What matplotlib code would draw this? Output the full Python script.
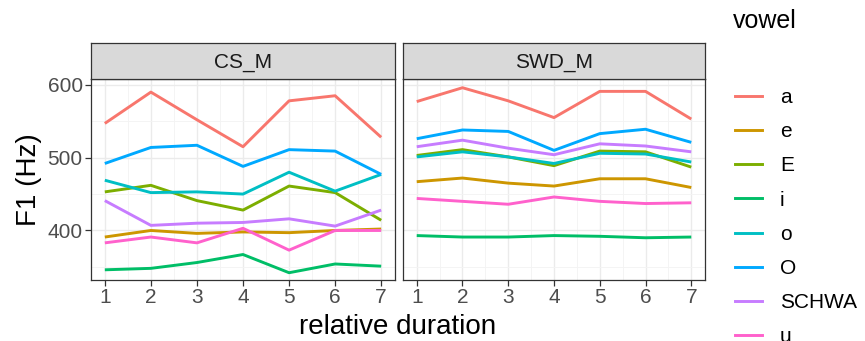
import numpy as np
import matplotlib.pyplot as plt
from matplotlib.lines import Line2D
from matplotlib.ticker import MultipleLocator

plt.rcParams['font.family'] = ['Liberation Sans', 'DejaVu Sans']

durations = [1, 2, 3, 4, 5, 6, 7]
vowels = ['a', 'e', 'E', 'i', 'o', 'O', 'SCHWA', 'u']
colors = ['#F8766D', '#CD9600', '#7CAE00', '#00BE67',
          '#00BFC4', '#00A9FF', '#C77CFF', '#FF61CC']
speakers = ['CS_M', 'SWD_M']

# F1 means per vowel, speaker CS_M
cs_m = {
    'a':     [547, 590, 552, 515, 578, 585, 528],
    'e':     [391, 400, 396, 398, 397, 400, 402],
    'E':     [453, 462, 441, 428, 461, 452, 414],
    'i':     [346, 348, 356, 367, 342, 354, 351],
    'o':     [469, 452, 453, 450, 480, 454, 477],
    'O':     [492, 514, 517, 488, 511, 509, 477],
    'SCHWA': [441, 407, 410, 411, 416, 406, 428],
    'u':     [383, 391, 383, 403, 373, 400, 400],
}
# F1 means per vowel, speaker SWD_M
swd_m = {
    'a':     [577, 596, 578, 555, 591, 591, 553],
    'e':     [467, 472, 465, 461, 471, 471, 459],
    'E':     [503, 511, 501, 489, 509, 508, 487],
    'i':     [393, 391, 391, 393, 392, 390, 391],
    'o':     [501, 508, 501, 492, 506, 505, 494],
    'O':     [526, 538, 536, 510, 533, 539, 521],
    'SCHWA': [515, 524, 513, 504, 519, 516, 508],
    'u':     [444, 440, 436, 446, 440, 437, 438],
}
panels = [cs_m, swd_m]

W, H = 865, 341
fig = plt.figure(figsize=(W / 100, H / 100), dpi=100)

panel_x = [(91, 395), (403, 705)]
ptop, pbot = 79, 280
strip_top = 43

for k, (x0, x1) in enumerate(panel_x):
    ax = fig.add_axes([x0 / W, 1 - pbot / H, (x1 - x0) / W, (pbot - ptop) / H])
    data = panels[k]
    for v, c in zip(vowels, colors):
        ax.plot(durations, data[v], color=c, lw=2.1, solid_capstyle='butt')
    ax.set_xlim(0.7, 7.3)
    ax.set_ylim(332, 608)
    ax.set_xticks(durations)
    ax.xaxis.set_minor_locator(MultipleLocator(0.5))
    ax.set_yticks([400, 500, 600])
    ax.yaxis.set_minor_locator(MultipleLocator(50))
    ax.grid(True, which='major', color='#EBEBEB', lw=1.0)
    ax.grid(True, which='minor', color='#F3F3F3', lw=0.6)
    ax.set_axisbelow(True)
    for s in ax.spines.values():
        s.set_color('#333333')
        s.set_linewidth(0.9)
    ax.tick_params(which='minor', length=0)
    ax.tick_params(which='major', length=4, color='#333333', width=0.9,
                   labelsize=15, labelcolor='#4D4D4D', pad=2)
    if k == 0:
        ax.set_ylabel('F1 (Hz)', fontsize=20, labelpad=4)
    else:
        ax.tick_params(axis='y', length=0, labelleft=False)

    sax = fig.add_axes([x0 / W, 1 - ptop / H, (x1 - x0) / W, (ptop - strip_top) / H])
    sax.set_facecolor('#D9D9D9')
    sax.set_xticks([])
    sax.set_yticks([])
    for s in sax.spines.values():
        s.set_color('#333333')
        s.set_linewidth(0.9)
    sax.text(0.5, 0.47, speakers[k], ha='center', va='center',
             fontsize=15, color='#1A1A1A', transform=sax.transAxes)

fig.text((91 + 705) / 2 / W, 1 - 327 / H, 'relative duration',
         ha='center', va='center', fontsize=20)

# legend
fig.text(733 / W, 1 - 21 / H, 'vowel', ha='left', va='center', fontsize=18)
handles = [Line2D([], [], color=c, lw=2.1) for c in colors]
fig.legend(handles, vowels, loc='upper left', bbox_to_anchor=(735 / W, 1 - 88 / H),
           frameon=False, fontsize=15, handlelength=1.3, handletextpad=0.85,
           labelspacing=0.73, borderaxespad=0, borderpad=0)

fig.savefig('out.png', dpi=100)
